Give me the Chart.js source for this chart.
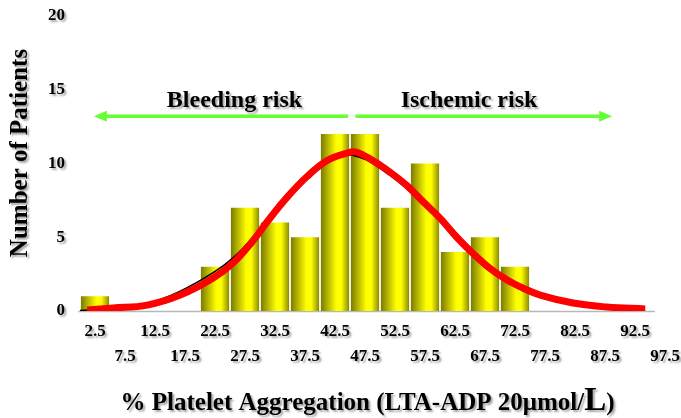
<!DOCTYPE html>
<html>
<head>
<meta charset="utf-8">
<script src="https://cdn.jsdelivr.net/npm/chart.js@4.4.1/dist/chart.umd.min.js"></script>
<style>
    html, body { margin: 0; padding: 0; background: #ffffff; }
    #wrap { width: 681px; height: 418px; }
</style>
</head>
<body>
<div id="wrap"><canvas id="platelet"></canvas></div>
<script>
// histogram bins (% aggregation, bin centres)
const binLabels = ["2.5", "7.5", "12.5", "17.5", "22.5", "27.5", "32.5", "37.5", "42.5", "47.5",
    "52.5", "57.5", "62.5", "67.5", "72.5", "77.5", "82.5", "87.5", "92.5", "97.5"];
const patientCounts = [1, 0, 0, 0, 3, 7, 6, 5, 12, 12, 7, 10, 4, 5, 3, 0, 0, 0, 0, 0];

// fitted normal curve (red)
const fitX = [1.2, 5.5, 11.2, 16.7, 22.2, 25.5, 28.8, 31.2, 34.5, 37.8, 41.2, 44.5, 46.0,
    48.8, 51.7, 54.5, 57.2, 60.0, 62.8, 65.5, 68.3, 71.2, 73.8, 76.7, 82.2, 87.8, 94.2];
const fitY = [0.07, 0.2, 0.4, 1.08, 2.24, 3.25, 4.75, 6.05, 7.7, 9.1, 10.2, 10.7, 10.78,
    10.2, 9.4, 8.5, 7.4, 6.3, 5.0, 3.9, 2.9, 2.1, 1.56, 1.08, 0.54, 0.27, 0.14];

// thin black curve underneath
const rawX = [-0.3, 5.5, 11.2, 16.7, 22.2, 25.5, 28.8, 34.5, 41.2, 44.5, 48.8, 57.2,
    62.8, 65.5, 68.3, 71.2, 76.7, 82.2, 87.8, 94.2];
const rawY = [0.02, 0.2, 0.5, 1.35, 2.6, 3.6, 5.0, 7.9, 10.1, 10.6, 10.0, 7.3,
    4.8, 3.7, 2.7, 1.95, 1.0, 0.47, 0.2, 0.07];

const yTicks = [0, 5, 10, 15, 20];

// risk arrows: [from, to] on the % scale, at this patient level
const bleedingArrow = [2.3, 44.7];
const ischemicArrow = [45.9, 88.7];
const arrowLevel = 13.2;

const SERIF = "'Liberation Serif', 'Times New Roman', serif";
Chart.defaults.font.family = SERIF;
Chart.defaults.color = "#000";

function barGradient(context) {
    const chart = context.chart;
    const xs = chart.scales.x;
    if (!xs || context.dataIndex === undefined) return "#ffff00";
    const cx = xs.getPixelForValue(context.dataIndex);
    const half = (xs.width / binLabels.length) * 0.94 / 2;
    if (!isFinite(cx) || !isFinite(half) || half <= 0) return "#ffff00";
    const g = chart.ctx.createLinearGradient(cx - half, 0, cx + half, 0);
    g.addColorStop(0, "#7a7a00");
    g.addColorStop(0.55, "#ffff00");
    g.addColorStop(0.72, "#ffff00");
    g.addColorStop(1, "#8a8a00");
    return g;
}

const shadowPlugin = {
    id: "shadowPlugin",
    beforeDraw(chart) {
        const c = chart.ctx;
        c.save();
        c.shadowColor = "rgba(0,0,0,0.35)";
        c.shadowOffsetX = 2;
        c.shadowOffsetY = 2;
        c.shadowBlur = 2;
    },
    beforeDatasetsDraw(chart) {
        const c = chart.ctx;
        c.restore();
        // baseline
        const x2 = chart.scales.x2, y = chart.scales.y;
        c.save();
        c.strokeStyle = "#b8b8b8";
        c.lineWidth = 1.5;
        c.beginPath();
        c.moveTo(x2.getPixelForValue(-0.3), y.getPixelForValue(0) + 0.5);
        c.lineTo(x2.getPixelForValue(95.8), y.getPixelForValue(0) + 0.5);
        c.stroke();
        c.restore();
    }
};

function drawArrow(c, x0, x1, y) {
    const dir = Math.sign(x1 - x0);
    c.beginPath();
    c.moveTo(x0, y);
    c.lineTo(x1 - dir * 10, y);
    c.stroke();
    c.beginPath();
    c.moveTo(x1, y);
    c.lineTo(x1 - dir * 13, y - 5.5);
    c.lineTo(x1 - dir * 13, y + 5.5);
    c.closePath();
    c.fill();
}

const annotationPlugin = {
    id: "annotationPlugin",
    afterDraw(chart) {
        const c = chart.ctx;
        const x2 = chart.scales.x2, y = chart.scales.y;
        const ay = y.getPixelForValue(arrowLevel);

        c.save();
        c.strokeStyle = "#66ff33";
        c.fillStyle = "#66ff33";
        c.lineWidth = 3.5;
        drawArrow(c, x2.getPixelForValue(bleedingArrow[1]), x2.getPixelForValue(bleedingArrow[0]), ay);
        drawArrow(c, x2.getPixelForValue(ischemicArrow[0]), x2.getPixelForValue(ischemicArrow[1]), ay);
        c.restore();

        c.save();
        c.shadowColor = "rgba(0,0,0,0.35)";
        c.shadowOffsetX = 2;
        c.shadowOffsetY = 2;
        c.shadowBlur = 2;
        c.fillStyle = "#000";
        c.textAlign = "center";
        c.textBaseline = "alphabetic";
        c.font = "bold 24px " + SERIF;
        c.fillText("Bleeding risk", 234.5, ay - 9);
        c.fillText("Ischemic risk", 469, ay - 9);

        // y title
        c.save();
        c.translate(21, 153);
        c.rotate(-Math.PI / 2);
        c.textBaseline = "middle";
        c.font = "bold 25px " + SERIF;
        c.fillText("Number of Patients", 0, 0);
        c.restore();

        // x title with the larger "L"
        const main = "% Platelet Aggregation (LTA-ADP 20\u03bcmol/";
        const fMain = "bold 25px " + SERIF, fBig = "bold 33px " + SERIF;
        c.font = fMain;
        const w1 = c.measureText(main).width;
        const w3 = c.measureText(")").width;
        c.font = fBig;
        const w2 = c.measureText("L").width;
        let x = 367.5 - (w1 + w2 + w3) / 2;
        const base = 410;
        c.textAlign = "left";
        c.font = fMain;
        c.fillText(main, x, base);
        x += w1;
        c.font = fBig;
        c.fillText("L", x, base);
        x += w2;
        c.font = fMain;
        c.fillText(")", x, base);
        c.restore();
    }
};

const ctx = document.getElementById("platelet").getContext("2d");
new Chart(ctx, {
    type: "bar",
    data: {
        labels: binLabels,
        datasets: [
            {
                type: "line",
                xAxisID: "x2",
                data: fitX.map((v, i) => ({ x: v, y: fitY[i] })),
                borderColor: "#ff0000",
                borderWidth: 7,
                pointRadius: 0,
                fill: false,
                tension: 0.4,
                order: 0,
            },
            {
                type: "line",
                xAxisID: "x2",
                data: rawX.map((v, i) => ({ x: v, y: rawY[i] })),
                borderColor: "#000000",
                borderWidth: 1.5,
                pointRadius: 0,
                fill: false,
                tension: 0.4,
                order: 1,
            },
            {
                data: patientCounts,
                backgroundColor: barGradient,
                borderWidth: 0,
                barPercentage: 0.94,
                categoryPercentage: 1,
                grouped: false,
                order: 2,
            },
        ],
    },
    options: {
        responsive: true,
        maintainAspectRatio: false,
        animation: false,
        layout: { padding: { top: 16, right: 1, bottom: 0, left: 0 } },
        plugins: { legend: { display: false }, tooltip: { enabled: false } },
        scales: {
            x: {
                type: "category",
                offset: true,
                grid: { display: false, drawTicks: false },
                border: { display: false },
                afterFit: (scale) => {
                    scale.height = 107;
                    scale.paddingLeft = 0;
                    scale.paddingRight = 0;
                },
                ticks: {
                    autoSkip: false,
                    maxRotation: 0,
                    padding: 8,
                    color: "#000",
                    font: { size: 17, weight: "bold", lineHeight: "25px" },
                    callback: (v, i) => (i % 2 ? ["", binLabels[i]] : binLabels[i]),
                },
            },
            x2: {
                type: "linear",
                axis: "x",
                position: "bottom",
                offset: false,
                min: 0,
                max: 100,
                display: false,
            },
            y: {
                min: 0,
                max: 20,
                grid: { display: false, drawTicks: false },
                border: { display: false },
                afterFit: (scale) => {
                    scale.width = 80;
                    scale.paddingTop = 0;
                    scale.paddingBottom = 0;
                },
                afterBuildTicks: (scale) => { scale.ticks = yTicks.map((v) => ({ value: v })); },
                ticks: {
                    padding: 15,
                    color: "#000",
                    font: { size: 17, weight: "bold" },
                },
            },
        },
    },
    plugins: [shadowPlugin, annotationPlugin],
});
</script>
</body>
</html>
